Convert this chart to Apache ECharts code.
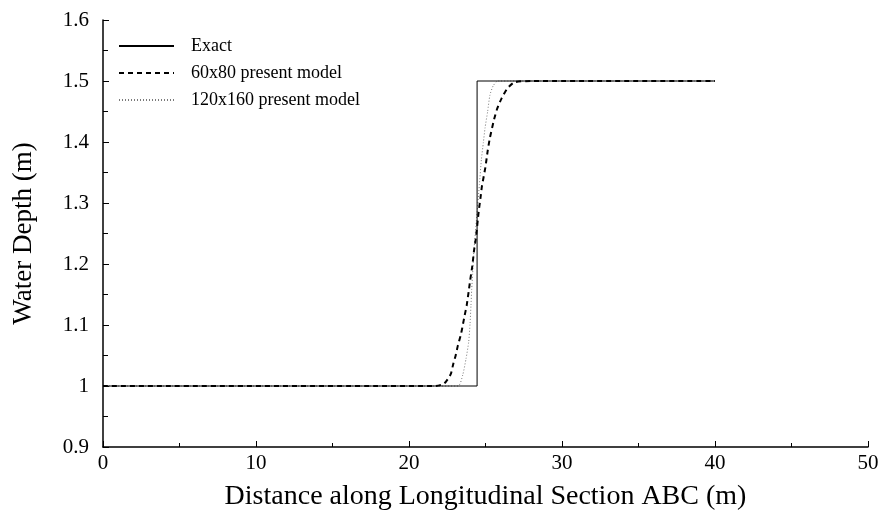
<!DOCTYPE html>
<html>
<head>
<meta charset="utf-8">
<script src="https://cdn.jsdelivr.net/npm/echarts@6/dist/echarts.min.js"></script>
<style>
  html, body { margin: 0; padding: 0; background: #fff; }
  #chart { width: 884px; height: 516px; }
</style>
</head>
<body>
<div id="chart"></div>
<script>
// Water depth along longitudinal section ABC (dam-break style step)
const exactX = [0, 24.45, 24.45, 40];
const exactY = [1.0, 1.0, 1.5, 1.5];

const coarseX = [0, 21.7, 22.3, 22.72, 22.9, 23.05, 23.2, 23.38, 23.51, 23.64, 23.77, 23.9, 23.99, 24.14, 24.25, 24.38, 24.55, 24.68, 24.77, 24.99, 25.14, 25.29, 25.56, 25.77, 26.06, 26.43, 26.9, 28.0, 40];
const coarseY = [1.0, 1.0, 1.004, 1.019, 1.037, 1.05, 1.067, 1.083, 1.099, 1.116, 1.132, 1.155, 1.172, 1.197, 1.222, 1.244, 1.285, 1.31, 1.328, 1.358, 1.385, 1.407, 1.437, 1.455, 1.472, 1.488, 1.498, 1.5, 1.5];

const fineX = [0, 23.2, 23.51, 23.73, 23.9, 23.99, 24.05, 24.1, 24.16, 24.22, 24.4, 24.6, 24.73, 24.86, 24.97, 25.14, 25.29, 25.5, 25.8, 40];
const fineY = [1.0, 1.0, 1.018, 1.045, 1.072, 1.102, 1.132, 1.159, 1.184, 1.214, 1.27, 1.33, 1.371, 1.399, 1.423, 1.45, 1.477, 1.492, 1.5, 1.5];

const seriesNames = ['Exact', '60x80 present model', '120x160 present model'];
const xTitle = 'Distance along Longitudinal Section ABC (m)';
const yTitle = 'Water Depth (m)';

const zip = (xs, ys) => xs.map((x, i) => [x, ys[i]]);
const font = 'Liberation Serif';

const chart = echarts.init(document.getElementById('chart'));
chart.setOption({
  animation: false,
  backgroundColor: '#fff',
  textStyle: { fontFamily: font, color: '#000' },
  grid: { left: 103, right: 16, top: 20, bottom: 67 },
  legend: {
    orient: 'vertical',
    left: 118,
    top: 37,
    padding: 0,
    itemWidth: 55,
    itemHeight: 14,
    itemGap: 9,
    itemStyle: { opacity: 0, borderWidth: 0 },
    textStyle: { fontFamily: font, fontSize: 18, color: '#000', padding: [0, 0, 0, 12] },
    data: seriesNames
  },
  xAxis: {
    type: 'value',
    min: 0, max: 50, interval: 10,
    name: xTitle,
    nameLocation: 'middle',
    nameGap: 36,
    nameTextStyle: { fontFamily: font, fontSize: 28, color: '#000' },
    axisLine: { show: true, lineStyle: { color: '#000', width: 1.5 } },
    axisTick: { show: true, inside: true, length: 6, lineStyle: { color: '#000' } },
    minorTick: { show: true, splitNumber: 2, length: 4, lineStyle: { color: '#000' } },
    axisLabel: { fontFamily: font, fontSize: 21, color: '#000', margin: 6 },
    splitLine: { show: false }
  },
  yAxis: {
    type: 'value',
    min: 0.9, max: 1.6, interval: 0.1,
    name: yTitle,
    nameLocation: 'middle',
    nameGap: 66,
    nameTextStyle: { fontFamily: font, fontSize: 27, color: '#000' },
    axisLine: { show: true, lineStyle: { color: '#000', width: 1.5 } },
    axisTick: { show: true, inside: true, length: 6, lineStyle: { color: '#000' } },
    minorTick: { show: true, splitNumber: 2, length: 5, lineStyle: { color: '#000' } },
    axisLabel: {
      fontFamily: font, fontSize: 21, color: '#000', margin: 14,
      formatter: v => String(Math.round(v * 10) / 10)
    },
    splitLine: { show: false }
  },
  series: [
    {
      name: seriesNames[0], type: 'line', symbol: 'none',
      data: zip(exactX, exactY),
      lineStyle: { color: '#000', width: 1 },
      itemStyle: { color: '#000' }, z: 3
    },
    {
      name: seriesNames[1], type: 'line', symbol: 'none', smooth: 0.2,
      data: zip(coarseX, coarseY),
      lineStyle: { color: '#000', width: 2, type: [5, 4] },
      itemStyle: { color: '#000' }, z: 4
    },
    {
      name: seriesNames[2], type: 'line', symbol: 'none', smooth: 0.2,
      data: zip(fineX, fineY),
      lineStyle: { color: '#7a7a7a', width: 1, type: [1, 2] },
      itemStyle: { color: '#7a7a7a' }, z: 2
    }
  ]
});
</script>
</body>
</html>
